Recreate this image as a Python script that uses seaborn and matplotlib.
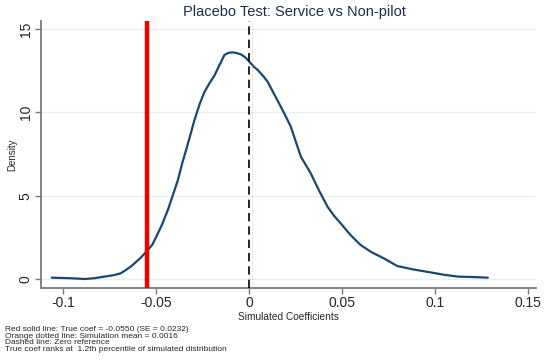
import numpy as np
import pandas as pd
import seaborn as sns
import matplotlib.pyplot as plt

# digitized kernel density of simulated coefficients
coef = [-0.106, -0.097, -0.088, -0.083, -0.078, -0.073, -0.069, -0.066, -0.0635,
        -0.0615, -0.058, -0.0552, -0.052, -0.0498, -0.047, -0.0436, -0.041, -0.0382,
        -0.036, -0.0338, -0.0315, -0.0293, -0.0265, -0.024, -0.0215, -0.0186, -0.016,
        -0.0132, -0.011, -0.0087, -0.0065, -0.0043, -0.002, 0.0002, 0.0025, 0.0047,
        0.0075, 0.010, 0.0135, 0.0171, 0.0198, 0.0225, 0.025, 0.0279, 0.0305,
        0.0332, 0.0377, 0.0422, 0.0457, 0.0493, 0.0545, 0.060, 0.066, 0.0725,
        0.0797, 0.088, 0.0975, 0.105, 0.1127, 0.12, 0.1284]
density = [0.08, 0.05, 0.00, 0.05, 0.14, 0.22, 0.34, 0.55, 0.75,
           0.94, 1.3, 1.64, 2.05, 2.54, 3.2, 4.14, 5.0, 5.94,
           6.9, 7.74, 8.65, 9.54, 10.5, 11.2, 11.7, 12.2, 12.8,
           13.44, 13.57, 13.6, 13.55, 13.48, 13.3, 13.04, 12.75, 12.54,
           12.2, 11.84, 11.1, 10.34, 9.75, 9.14, 8.3, 7.34, 6.85,
           6.34, 5.3, 4.34, 3.8, 3.34, 2.65, 2.04, 1.6, 1.24,
           0.78, 0.58, 0.40, 0.25, 0.14, 0.12, 0.08]
true_coef = -0.0550
sim_mean = 0.0016
xticks = [-0.1, -0.05, 0, 0.05, 0.1, 0.15]
xticklabels = ["-0.1", "-0.05", "0", "0.05", "0.1", "0.15"]
yticks = [0, 5, 10, 15]
yticklabels = ["0", "5", "10", "15"]
notes = ["Red solid line: True coef = -0.0550 (SE = 0.0232)",
         "Orange dotted line: Simulation mean = 0.0016",
         "Dashed line: Zero reference",
         "True coef ranks at  1.2th percentile of simulated distribution"]

df = pd.DataFrame({"coef": coef, "density": density})

sns.set_style("white")
plt.rcParams['font.family'] = ['Liberation Sans', 'DejaVu Sans']

fig = plt.figure(figsize=(5.5, 3.63), dpi=100)
ax = fig.add_axes([41/550, 1-288/363, 495/550, 267/363])

sns.lineplot(data=df, x="coef", y="density", ax=ax, color="#1a476f", lw=1.6,
             errorbar=None, zorder=2)
ax.axvline(true_coef, color="#ee0000", lw=3.2, zorder=4)
ax.axvline(sim_mean, color="#f0a040", lw=0.8, ls=(0, (1, 1.5)), alpha=0.5, zorder=3)
ax.axvline(0, color="black", lw=1.2, ls=(0, (5, 3)), zorder=3)

ax.set_xlim(-0.1118, 0.1543)
ax.set_ylim(-0.54, 15.48)
ax.set_xticks(xticks)
ax.set_xticklabels(xticklabels, fontsize=10)
ax.set_yticks(yticks)
ax.set_yticklabels(yticklabels, fontsize=10, rotation=90, va="center")
ax.yaxis.grid(True, color="#e6eef1", lw=1.0)
ax.xaxis.grid(False)
ax.set_axisbelow(True)

for s in ["top", "right"]:
    ax.spines[s].set_visible(False)
for s in ["left", "bottom"]:
    ax.spines[s].set_color("#7a7a7a")
    ax.spines[s].set_linewidth(1.3)
ax.tick_params(axis="both", which="both", length=4, width=1, color="#7a7a7a",
               direction="out", bottom=True, left=True, pad=2)

ax.set_xlabel("Simulated Coefficients", fontsize=7.3, labelpad=1)
ax.set_ylabel("Density", fontsize=7, labelpad=1)

fig.text(294/550, 1-12/363, "Placebo Test: Service vs Non-pilot", fontsize=10.5,
         color="#1c2c4c", ha="center", va="center")
fig.text(5/550, 1-326/363, "\n".join(notes), fontsize=6.0, ha="left", va="top",
         linespacing=0.95)

plt.savefig("out.png", dpi=100)
